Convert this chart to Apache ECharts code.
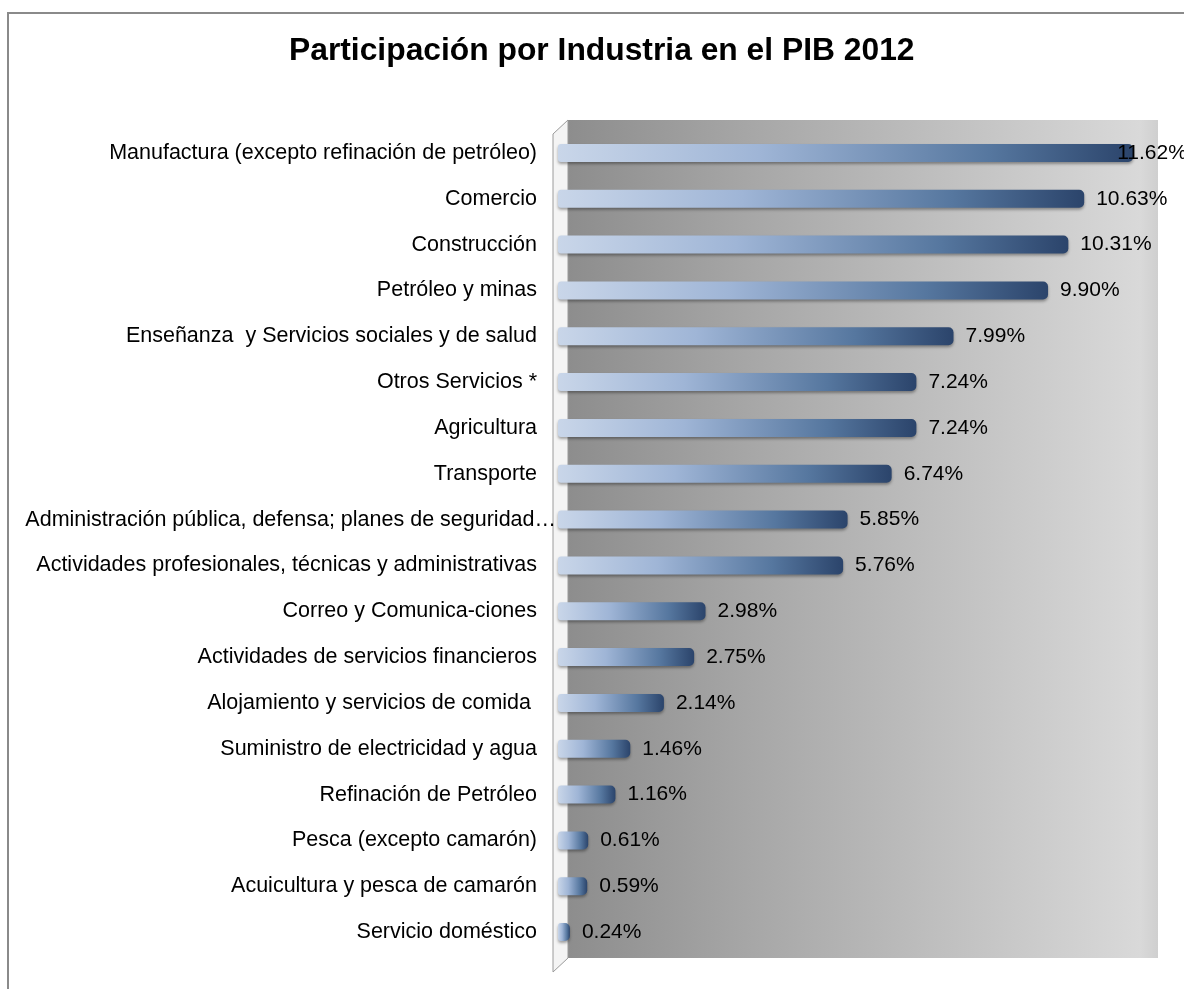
<!DOCTYPE html>
<html>
<head>
<meta charset="utf-8">
<title>Participación por Industria en el PIB 2012</title>
<script src="https://cdn.jsdelivr.net/npm/echarts@6/dist/echarts.min.js"></script>
<style>
  html, body { margin: 0; padding: 0; background: #ffffff; }
  #chart { width: 1184px; height: 989px; }
</style>
</head>
<body>
<div id="chart"></div>
<script>
// Industry names, top to bottom
const industries = [
  'Manufactura (excepto refinación de petróleo)',
  'Comercio',
  'Construcción',
  'Petróleo y minas',
  'Enseñanza  y Servicios sociales y de salud',
  'Otros Servicios *',
  'Agricultura',
  'Transporte',
  'Administración pública, defensa; planes de seguridad…',
  'Actividades profesionales, técnicas y administrativas',
  'Correo y Comunica-ciones',
  'Actividades de servicios financieros',
  'Alojamiento y servicios de comida ',
  'Suministro de electricidad y agua',
  'Refinación de Petróleo',
  'Pesca (excepto camarón)',
  'Acuicultura y pesca de camarón',
  'Servicio doméstico'
];

// Share of GDP (%) for each industry
const shares = [11.62, 10.63, 10.31, 9.90, 7.99, 7.24, 7.24, 6.74, 5.85, 5.76,
                2.98, 2.75, 2.14, 1.46, 1.16, 0.61, 0.59, 0.24];

const chartTitle = 'Participación por Industria en el PIB 2012';
const FONT = '"Liberation Sans", Arial, sans-serif';

const chart = echarts.init(document.getElementById('chart'), null, { renderer: 'canvas' });

const categoryData = industries.map((name, i) => {
  // the truncated long label sits closer to the axis
  if (i === 8) return { value: name, textStyle: { padding: [0, 0, 0, 0] } };
  return name;
});

const barData = shares.map((v, i) => {
  if (i === 0) return { value: v, label: { distance: -16 } };
  return v;
});

const barFill = new echarts.graphic.LinearGradient(0, 0, 1, 0, [
  { offset: 0, color: '#c9d6e9' },
  { offset: 0.35, color: '#9fb5d6' },
  { offset: 0.75, color: '#56779f' },
  { offset: 1, color: '#2b446b' }
]);

const wallFill = new echarts.graphic.LinearGradient(0, 0, 1, 0, [
  { offset: 0, color: '#8d8d8d' },
  { offset: 0.3, color: '#a6a6a6' },
  { offset: 0.97, color: '#d9d9d9' },
  { offset: 1, color: '#cfcfcf' }
]);

chart.setOption({
  animation: false,
  backgroundColor: '#ffffff',
  title: {
    text: chartTitle,
    left: 289,
    top: 35,
    padding: 0,
    textStyle: { fontFamily: FONT, fontSize: 31.8, fontWeight: 'bold', color: '#000000' }
  },
  graphic: [
    // outer chart frame (top and left edges)
    {
      type: 'polyline', z: 0,
      shape: { points: [[8, 989], [8, 13], [1184, 13]] },
      style: { stroke: '#8a8a8a', lineWidth: 2, fill: null }
    },
    // back wall of the plot
    {
      type: 'rect', z: 0,
      shape: { x: 568, y: 120, width: 590, height: 838 },
      style: { fill: wallFill }
    },
    // side wall strip
    {
      type: 'polygon', z: 0,
      shape: { points: [[553, 134], [568, 120], [568, 958], [553, 972]] },
      style: { fill: '#f4f4f4', stroke: '#9a9a9a', lineWidth: 1 }
    }
  ],
  grid: {
    left: 558,
    right: 32,
    top: 130,
    bottom: 34,
    containLabel: false
  },
  xAxis: {
    type: 'value',
    min: 0,
    max: 12,
    show: false,
    splitLine: { show: false }
  },
  yAxis: {
    type: 'category',
    inverse: true,
    data: categoryData,
    axisLine: { show: false },
    axisTick: { show: false },
    axisLabel: {
      margin: 2,
      padding: [0, 19, 0, 0],
      fontFamily: FONT,
      fontSize: 21.5,
      color: '#000000'
    }
  },
  series: [{
    type: 'bar',
    data: barData,
    barWidth: 18,
    itemStyle: {
      color: barFill,
      borderRadius: [3, 5, 5, 3],
      shadowColor: 'rgba(0,0,0,0.35)',
      shadowBlur: 3,
      shadowOffsetY: 2
    },
    label: {
      show: true,
      position: 'right',
      distance: 12,
      fontFamily: FONT,
      fontSize: 21,
      color: '#000000',
      formatter: p => p.value.toFixed(2) + '%'
    }
  }]
});
</script>
</body>
</html>
